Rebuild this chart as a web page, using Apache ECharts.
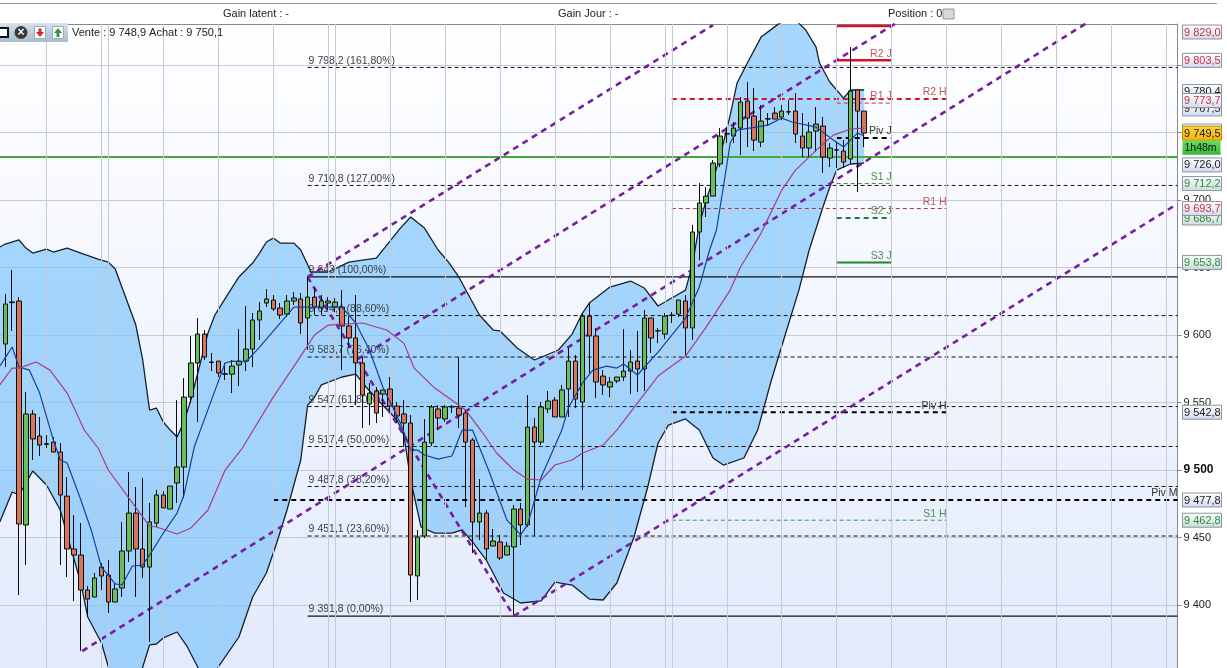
<!DOCTYPE html>
<html><head><meta charset="utf-8">
<style>html,body{margin:0;padding:0;background:#fff;overflow:hidden}#c{width:1227px;height:668px}</style>
<script src="https://cdn.jsdelivr.net/npm/echarts@6/dist/echarts.min.js"></script>
</head><body><div id="c"></div>
<script>
const opens=[9593.3,9624,9625.2,9459.3,9541.5,9525.2,9519.5,9520.7,9513.3,9480.7,
9441.5,9437,9411.1,9405.9,9428.1,9422.2,9402.2,9412.6,9440,9468.1,
9441.5,9428.1,9460.7,9481.5,9471.1,9490.4,9502.2,9554,9579.3,9600.7,
9580,9580.7,9571.3,9571,9577.8,9580.7,9589.6,9611.1,9623.7,9625.9,
9620,9615.5,9625.2,9626.7,9612.6,9628.1,9620,9623.7,9620.7,9620.7,
9606.7,9597.8,9579.3,9548.9,9558.5,9556.3,9560,9547.4,9541.5,9534.8,
9421.5,9451.1,9520,9545.2,9537.8,9546.7,9545.9,9542.2,9522.2,9461.5,
9468.1,9443.7,9446.7,9437,9443,9471.1,9459.3,9531.8,9520.7,9545.2,
9551.8,9539.3,9560,9580.7,9550.4,9614,9599.3,9569.6,9561.5,9565.9,
9568.9,9573.3,9580.7,9574.8,9612.6,9603,9600.7,9614.5,9615.5,9625.2,
9605.2,9676.3,9697.8,9702.9,9726.7,9748.9,9747.4,9753.3,9773.3,9762.2,
9742.9,9760,9764.4,9761.5,9765.2,9765.9,9747.4,9738.5,9751.1,9754.8,
9731.1,9737,9736.3,9730.4,9781.5,9765.9];
const closes=[9623,9624.5,9460,9541.5,9523,9518.5,9519,9513.3,9481.5,9441.5,
9437,9411.1,9404.4,9420,9421.5,9402.2,9411.9,9440,9468.1,9441.5,
9428.1,9461.5,9481.5,9471.9,9488.1,9502.2,9554,9579.3,9600.7,9583.7,
9579.6,9571.9,9571,9577,9580.7,9589.6,9611.1,9617.8,9626.7,9619.3,
9614.8,9625.2,9627.4,9608.9,9628.1,9620.7,9625.2,9625.2,9624.4,9606.7,
9597.8,9579.3,9555.6,9557,9542.2,9559.3,9547.4,9540,9534.8,9422.2,
9450.4,9520.7,9546.7,9538.5,9546.7,9546.9,9540.7,9520.7,9461.5,9468.1,
9441.5,9447.4,9434.8,9443.7,9471.1,9459.3,9531.8,9520.7,9546.7,9551.1,
9539.3,9559.3,9580.7,9552.6,9614,9599.3,9565.2,9563,9565.2,9568.9,
9573.3,9580,9574.8,9612.6,9597.8,9603.3,9614,9614.8,9625.9,9605.2,
9676.3,9697.8,9702.9,9727.4,9747.4,9749.1,9753.3,9772.6,9760.7,9744.4,
9758.5,9760.2,9760,9765.9,9765.4,9748.9,9738.5,9750.4,9756.3,9731.8,
9738.5,9737.2,9728.1,9780.7,9765.9,9749.6];
const lows=[9576.3,9603,9407.4,9429.6,9507.4,9510.4,9516.3,9513.3,9429.6,9420.7,
9403,9366,9391.1,9405.9,9411.1,9394.1,9402.2,9405.9,9431.9,9405.9,
9420,9372.6,9457.8,9471.9,9471.1,9475.6,9479.3,9549.6,9535.6,9581.5,
9573.3,9568.9,9566.7,9557,9562.2,9573.3,9576.3,9596.3,9620.7,9617.8,
9611.8,9613.3,9622.2,9600.7,9588.9,9614.8,9614.8,9618.5,9617,9574,
9590.4,9548.1,9531.1,9533.3,9534.8,9539.3,9543,9534.8,9517,9402.2,
9403.7,9449.6,9517.8,9529.6,9535.6,9542.2,9531.1,9472.6,9438.5,9448.1,
9433.3,9443.7,9433.3,9437,9392.6,9444.4,9457.8,9451.1,9518.5,9542.2,
9539.3,9539.3,9539.3,9545.9,9485.2,9571.9,9553.3,9555.6,9554,9564.4,
9565.9,9556.3,9557.8,9558.5,9586.7,9594,9597,9608.9,9613.3,9585.2,
9596.3,9655.5,9687.4,9702.9,9724.4,9742.2,9742.2,9733.3,9739.2,9736.3,
9739.2,9754.8,9760,9759.2,9763,9742.2,9731.8,9731.8,9735.5,9720,
9724.4,9723.7,9723.7,9726.7,9705.9,9739.2];
const highs=[9630.4,9648.1,9628.1,9557.8,9544.4,9539.3,9525.9,9524.4,9520,9494.8,
9466.7,9460.7,9414,9423.7,9431.1,9433.3,9416.3,9461.5,9498.5,9487.4,
9494.1,9475.6,9485.2,9484.4,9488.1,9551.8,9568.1,9599.3,9612.6,9603.7,
9586.7,9580.7,9579.3,9581.5,9604.4,9621.5,9616.3,9624.4,9634,9629.6,
9623.7,9629.6,9631.8,9631.1,9643,9634.8,9629.6,9628.1,9627.4,9633.3,
9614,9629.6,9583.7,9564.4,9561.5,9559.3,9568.9,9550.4,9551.8,9540.7,
9455.6,9537.8,9548.1,9548.1,9548.1,9548.1,9583.7,9544.4,9523.7,9493.3,
9470.4,9456.3,9451.9,9446.7,9474.1,9475.6,9555.6,9538.5,9550.4,9558.5,
9554,9563,9590.4,9585.2,9616.3,9623.7,9605.2,9574,9568.9,9568.9,
9604.4,9588.9,9603,9618.5,9612.6,9605.2,9616.3,9617,9625.9,9629.6,
9681.5,9712.6,9709.6,9729.6,9753.3,9754,9757.8,9776.3,9787.4,9783,
9770.4,9764.4,9768.9,9770.4,9774,9779.2,9764.4,9757.8,9768.9,9761.5,
9742.2,9742.9,9744.4,9813.3,9781.5,9765.9];

const upperAt=[-0.8,0,2,3,4,6,7,9,11,13.5,15,16,17.5,19,20,21,22,23,24,25,26,27,28.5,29.5,30.5,32.5,34,36,37,38,39,40,42,43,44.5,47,50,54,57.5,59,61,63,64.5,66,69,71,72,74.5,77,80.5,82.5,84,85,88,91,93,95,97,99,100,101,102,103,104,105.5,106.5,108,110,112.5,114.5,116.5,118,118.5,120,122,123,125];
const upperBand=[9665.2,9667.4,9670.4,9664.4,9660.7,9663.7,9661.5,9664.4,9660.7,9656.3,9654,9648.9,9628.1,9607.4,9581.5,9544.4,9545.9,9535.6,9529.6,9524.4,9535.6,9551.8,9581.5,9601.5,9614.8,9631.1,9643,9653.3,9660.7,9668.9,9671.8,9668.1,9668.1,9663,9646.7,9646.7,9654,9657,9679.2,9687.4,9679.2,9663,9654,9643,9614.8,9603.7,9603,9590.4,9581.5,9588.9,9600.7,9616.3,9623.7,9635.5,9640,9634.8,9621.5,9627.4,9633.3,9651.8,9681.5,9700,9714.8,9731.8,9762.9,9786.6,9801.5,9820.7,9830.3,9836,9825.9,9813.3,9801.5,9787.4,9775.5,9781.5,9781.5];
const lowerAt=[-0.8,1,2,4,6,8,9.5,11,12,14,15,16,17.5,19,20,21,22,23,25,26.5,28,29,30,31,34,36,38,39.5,41,43,44,45,46,49,51,52.5,54.5,57,58,59,60.5,62.5,65,66.5,68,70,72.5,75,78,80,82.5,85,87,89,91.5,93.5,95,96.5,99,101,103,104.5,107.5,109.5,111.5,113.5,115.5,117,119,120,121,123,125];
const lowerBand=[9461.5,9483.7,9481.5,9499.3,9488.9,9470.4,9443,9416.3,9391.1,9371.9,9354.1,9337,9329.6,9337,9354.1,9370.4,9371.1,9375.6,9380,9368.9,9354.1,9340.7,9337,9354.1,9376.3,9405.9,9423.7,9445.9,9470.4,9507.4,9548.1,9554,9563,9568.9,9571.1,9561.5,9550.4,9537,9525.9,9492.6,9457.8,9453.3,9453.3,9455.6,9446.7,9433.3,9408.9,9401.5,9403,9417,9414.8,9404.4,9403.7,9416.3,9450.4,9487.4,9520,9533.3,9537.8,9529.6,9508.9,9503.7,9508.9,9529.6,9566.7,9600,9633.3,9663,9694.8,9709.6,9722.2,9726.7,9727.4];
const fastAt=[-0.8,1,2,3.5,5,7,8,9,11,12.5,14,16,17,18.5,20,21,23,25,26,27.5,30,32,33,35,37,39.5,42,43.5,46,49,51,53,55,57.5,59,60,61,63,65,66.5,68,70.5,73,75,76,78,81,82,84,85.5,87.5,89,90,92,95,99,101,102.5,103.5,104.5,105.5,106.5,111,113,114.5,118,120.5,122,124,125];
const fastMA=[9577,9591.1,9576.3,9574,9557,9522.2,9507.4,9505.2,9477.8,9455.6,9428.1,9415.6,9414.8,9428.9,9429.6,9437,9453.3,9468.1,9481.5,9517,9551.8,9579.3,9580.7,9580,9591.1,9605.9,9620.7,9620.7,9620.7,9620.7,9608.9,9588.9,9560.7,9534.8,9514.8,9514.8,9511.1,9508.1,9510.4,9529.6,9529.6,9497.8,9463,9451.9,9459.3,9494.8,9529.6,9546.7,9564.4,9574,9577,9575.5,9578.5,9570.4,9587.4,9612.6,9635.5,9663,9677.8,9709.6,9742.2,9751.8,9755.5,9760.7,9757.8,9754,9744.4,9739.2,9749.6,9747.4];
const slowAt=[-0.8,1,2,4.5,6.5,9,11.5,13.5,15,18.5,21,22,25,27,29.5,32,34.5,39,43,45,47,52,55.5,58,59.5,62.5,67,69.5,71.5,74,76,78,80,82.5,84,87,89,95,99,102,105.5,107,110,113,115,118.5,120.5,123,125];
const slowMA=[9563,9575.5,9575.5,9580,9574,9557,9529.6,9516.3,9500,9475.6,9458.5,9457.8,9452.6,9457,9470.4,9500,9516.3,9554,9584.4,9600,9607.4,9608.9,9603.7,9594,9575.5,9560.7,9544.4,9527.4,9512.6,9500,9493.3,9492.6,9503.7,9507.4,9512.6,9518.5,9529.6,9569.6,9584.4,9605.9,9633.3,9650.4,9675.5,9707.4,9722.2,9739.2,9748.1,9752.6,9753.3];

const hourCandles=[6,14,15,23,31,39,47,48,56,64,72,80,88,96,97,105,113,121,129,137,145,153,161,169];
const channelFrom=[[44,9643],[74,9391.8],[11.2,9365.9],[51.3,9582.2],[44,9643]];
const channelTo=[[74,9391.8],[170.3,9696.3],[157.6,9831.8],[130.8,9834.8],[103,9829.6]];

const fibPrices=[9798.2,9710.8,9643,9614.4,9583.7,9547,9517.4,9487.8,9451.1,9391.8];
const fibLabels=['9 798,2 (161,80%)','9 710,8 (127,00%)','9 643 (100,00%)','9 614,4 (88,60%)','9 583,7 (76,40%)','9 547 (61,80%)','9 517,4 (50,00%)','9 487,8 (38,20%)','9 451,1 (23,60%)','9 391,8 (0,00%)'];
const pivotNames=['R3 J','R2 J','R1 J','Piv J','S1 J','S2 J','S3 J','R2 H','R1 H','Piv H','S1 H','Piv M'];
const pivotValues=[9829,9803.5,9771.8,9745.9,9712.2,9686.7,9653.8,9774.8,9693.7,9542.8,9462.8,9477.8];
const pivotFrom=[121,121,121,121,121,121,121,97,97,97,97,39];
const pivotTo=[129,129,129,129,129,129,129,137,137,137,137,170.6];
const supportLevel=9731.8;

const tagValues=[9829,9803.5,9780.4,9767.5,9773.7,9751.1,9749.5,9726,9712.2,9686.7,9693.7,9653.8,9542.8,9477.8,9462.8];
const tagKinds=['red','red','dark','dark','red','dark','gold','dark','green','green','red','green','dark','dark','green'];
const countdownText='1h48m';
const lastPrice=9749.5;

const FONT='"Liberation Sans",Arial,sans-serif';
const X_MIN=-0.77,X_MAX=170.6;
const pairs=(a,b)=>a.map((v,i)=>[v,b[i]]);
const fmtTag=v=>{const s=v.toFixed(1).replace('.',',');return s[0]+' '+s.slice(1);};

const pivotStyle={
 'R3 J':{c:'#d2142b',w:2.5,t:'solid',l:''},'R2 J':{c:'#d2142b',w:2.5,t:'solid',l:'#c05a5a'},
 'R1 J':{c:'#b33a4a',w:1,t:[4,3],l:'#c05a5a'},'Piv J':{c:'#000',w:2,t:[5,4],l:'#333'},
 'S1 J':{c:'#3a8a3a',w:1,t:[4,3],l:'#4d8f4d'},'S2 J':{c:'#1f7a3a',w:2,t:[5,4],l:'#4d8f4d'},
 'S3 J':{c:'#1f8a2a',w:2,t:'solid',l:'#4d8f4d'},'R2 H':{c:'#cc1530',w:2,t:[5,4],l:'#c05a5a'},
 'R1 H':{c:'#a83248',w:1,t:[4,3],l:'#c05a5a'},'Piv H':{c:'#000',w:2,t:[5,4],l:'#333'},
 'S1 H':{c:'#3a9a4a',w:1,t:[4,3],l:'#4d8f4d'},'Piv M':{c:'#000',w:2,t:[5,4],l:'#333'}
};
const tagStyle={
 red:{fill:['#fff','#d4daee'],text:'#c8323f',border:'#8b95a3'},
 green:{fill:['#fff','#c9dcd8'],text:'#2f8a3f',border:'#8b95a3'},
 dark:{fill:['#fff','#d4daee'],text:'#222',border:'#8b95a3'},
 gold:{fill:['#ffd24a','#f2b400'],text:'#222',border:'#b89000'}
};

const series=[];

// session grid lines
series.push({type:'line',data:[],z:0,silent:true,animation:false,
 markLine:{silent:true,symbol:'none',animation:false,label:{show:false},lineStyle:{color:'#c4cad6',width:1,type:'solid'},data:hourCandles.map(v=>({xAxis:v}))}});

// Bollinger band fill
series.push({type:'custom',z:1,silent:true,animation:false,coordinateSystem:'cartesian2d',data:[[0,9500]],
 renderItem(p,api){
  const pts=[];
  upperAt.forEach((x,i)=>pts.push(api.coord([x,upperBand[i]])));
  for(let i=lowerAt.length-1;i>=0;i--)pts.push(api.coord([lowerAt[i],lowerBand[i]]));
  return {type:'polygon',shape:{points:pts},style:{fill:'rgba(126,196,250,0.68)'},
   clipPath:{type:'rect',shape:{x:p.coordSys.x,y:p.coordSys.y,width:p.coordSys.width,height:p.coordSys.height}}};
 }});

const curve=(x,y,color,w,z)=>series.push({type:'line',data:pairs(x,y),symbol:'none',silent:true,animation:false,z,lineStyle:{color,width:w}});
curve(upperAt,upperBand,'#14202e',1.3,2);
curve(lowerAt,lowerBand,'#14202e',1.3,2);

// fib levels
fibPrices.forEach((v,i)=>{
 const solid=(v===9643||v===9391.8);
 series.push({type:'line',z:3,silent:true,animation:false,symbol:'circle',symbolSize:0,showSymbol:true,showAllSymbol:true,
  lineStyle:{color:'#111',width:solid?1.3:1,type:solid?'solid':[4,3]},
  data:[{value:[44,v],label:{show:true,position:'top',align:'left',distance:1,offset:[1,0],formatter:fibLabels[i],color:'#3a3f46',fontFamily:FONT,fontSize:10.5}},{value:[X_MAX,v]}]});
});

// support line
series.push({type:'line',z:3,silent:true,animation:false,symbol:'none',lineStyle:{color:'#43a93b',width:2},data:[[X_MIN,supportLevel],[X_MAX,supportLevel]]});

// pivots
pivotNames.forEach((n,i)=>{
 const s=pivotStyle[n];
 series.push({type:'line',z:3,silent:true,animation:false,symbol:'circle',symbolSize:0,showSymbol:true,showAllSymbol:true,
  lineStyle:{color:s.c,width:s.w,type:s.t},
  data:[{value:[pivotFrom[i],pivotValues[i]]},{value:[pivotTo[i],pivotValues[i]],label:{show:!!s.l,position:'top',align:'right',distance:1,formatter:n,color:s.l||'#000',fontFamily:FONT,fontSize:10.5}}]});
});

// channels
channelFrom.forEach((a,i)=>series.push({type:'line',z:4,silent:true,animation:false,symbol:'none',lineStyle:{color:'#741ea0',width:2.6,type:[6,5]},data:[a,channelTo[i]]}));

// candles
series.push({type:'candlestick',z:5,silent:true,animation:false,barWidth:5,
 itemStyle:{color:'#66bf5c',color0:'#d8735c',borderColor:'#0c0c0c',borderColor0:'#0c0c0c',borderWidth:1},
 data:opens.map((o,i)=>[i,o,closes[i],lows[i],highs[i]])});

curve(fastAt,fastMA,'#16409f',1.2,6);
curve(slowAt,slowMA,'#a83a8f',1.2,6);

// right hand price tags
const tagRows=tagValues.map((v,i)=>[X_MAX,v,i]);
const tagX=5,tagW=39,tagH=14;
series.push({type:'custom',z:20,silent:true,animation:false,clip:false,coordinateSystem:'cartesian2d',data:tagRows.concat([[X_MAX,lastPrice,-1]]),
 encode:{x:0,y:1},
 renderItem(p,api){
  const idx=api.value(2);
  const c=api.coord([X_MAX,api.value(1)]);
  const x=c[0]+tagX;
  if(idx<0){
   const y=c[1]+7.5;
   return {type:'group',children:[
    {type:'rect',shape:{x,y,width:tagW-1,height:14},style:{fill:{type:'linear',x:0,y:0,x2:0,y2:1,colorStops:[{offset:0,color:'#5fe05f'},{offset:1,color:'#38b838'}]}}},
    {type:'text',x:x+2,y:y+7,style:{text:countdownText,fill:'#111',font:'10.5px '+FONT,textVerticalAlign:'middle'}}]};
  }
  const s=tagStyle[tagKinds[idx]];
  const cy=Math.max(c[1],32);
  const y=cy-7;
  return {type:'group',children:[
   {type:'rect',shape:{x,y,width:tagW,height:tagH},style:{fill:{type:'linear',x:0,y:0,x2:0,y2:1,colorStops:[{offset:0,color:s.fill[0]},{offset:1,color:s.fill[1]}]},stroke:s.border,lineWidth:1}},
   {type:'text',x:x+1.5,y:cy+0.5,style:{text:fmtTag(api.value(1)),fill:s.text,font:'11px '+FONT,textVerticalAlign:'middle'}}]};
 }});

const hdr=(t,x,y,extra)=>Object.assign({type:'text',x,y,silent:true,z:50,style:{text:t,fill:'#222',font:'11px '+FONT,textVerticalAlign:'middle'}},extra||{});
const graphics=[
 {type:'rect',shape:{x:0,y:0,width:1227,height:3},style:{fill:'#fff'},z:49,silent:true},
 {type:'rect',shape:{x:0,y:3,width:1217,height:1},style:{fill:'#9b9b9b'},z:49,silent:true},
 hdr('Gain latent : -',223,14),hdr('Gain Jour : -',558,14),hdr('Position : 0',888,14),
 {type:'rect',shape:{x:943,y:9,width:11,height:10},style:{fill:'#d8d8d8',stroke:'#9a9a9a'},z:50,silent:true},
 {type:'rect',shape:{x:0,y:23,width:68,height:19},style:{fill:{type:'linear',x:0,y:0,x2:0,y2:1,colorStops:[{offset:0,color:'#d6e2ec'},{offset:1,color:'#a9bccb'}]}},z:50,silent:true},
 {type:'rect',shape:{x:-3,y:28,width:11,height:9},style:{fill:'#fff',stroke:'#111',lineWidth:2},z:51,silent:true},
 {type:'circle',shape:{cx:21,cy:32.5,r:6.5},style:{fill:'#3a3a3a'},z:51,silent:true},
 {type:'text',x:21,y:33,silent:true,z:52,style:{text:'×',fill:'#fff',font:'bold 12px '+FONT,textAlign:'center',textVerticalAlign:'middle'}},
 {type:'rect',shape:{x:34.5,y:26.5,width:11,height:12},style:{fill:'#fff',stroke:'#9aa8b8'},z:51,silent:true},
 {type:'polygon',shape:{points:[[36,32],[44,32],[40,37]]},style:{fill:'#d02a2a'},z:52,silent:true},
 {type:'rect',shape:{x:38.5,y:28.5,width:3,height:4},style:{fill:'#d02a2a'},z:52,silent:true},
 {type:'rect',shape:{x:52.5,y:26.5,width:11,height:12},style:{fill:'#fff',stroke:'#9aa8b8'},z:51,silent:true},
 {type:'polygon',shape:{points:[[54,33],[62,33],[58,28]]},style:{fill:'#2a9a3a'},z:52,silent:true},
 {type:'rect',shape:{x:56.5,y:33,width:3,height:4},style:{fill:'#2a9a3a'},z:52,silent:true},
 hdr('Vente : 9 748,9 Achat : 9 750,1',72,33)
];

const chart=echarts.init(document.getElementById('c'),null,{renderer:'canvas'});
chart.setOption({
 animation:false,backgroundColor:'#fff',
 grid:{left:0,top:24,right:49.5,height:648.5,show:true,borderWidth:0,containLabel:false,outerBoundsMode:'none',
  backgroundColor:{type:'linear',x:0,y:0,x2:0,y2:1,colorStops:[{offset:0,color:'#ffffff'},{offset:1,color:'#e2eafb'}]}},
 xAxis:{type:'value',position:'top',min:X_MIN,max:X_MAX,splitLine:{show:false},axisTick:{show:false},axisLabel:{show:false},axisLine:{show:true,onZero:false,lineStyle:{color:'#808a90',width:1}}},
 yAxis:{type:'value',position:'right',min:9350,max:9830.4,interval:50,scale:true,
  axisLine:{show:true,onZero:false,lineStyle:{color:'#808a90',width:1}},axisTick:{show:true,length:4,lineStyle:{color:'#808a90'}},
  splitLine:{show:true,lineStyle:{color:'#c4cad6',width:1}},
  axisLabel:{margin:6,color:'#222',fontFamily:FONT,fontSize:11,showMaxLabel:false,
   formatter:v=>{if(v%50!==0)return '';const s=String(v);const t=s[0]+' '+s.slice(1);return v===9500?'{b|'+t+'}':t;},
   rich:{b:{fontWeight:'bold',fontSize:12,fontFamily:FONT,color:'#111'}}}},
 series,graphic:graphics
});
</script></body></html>
